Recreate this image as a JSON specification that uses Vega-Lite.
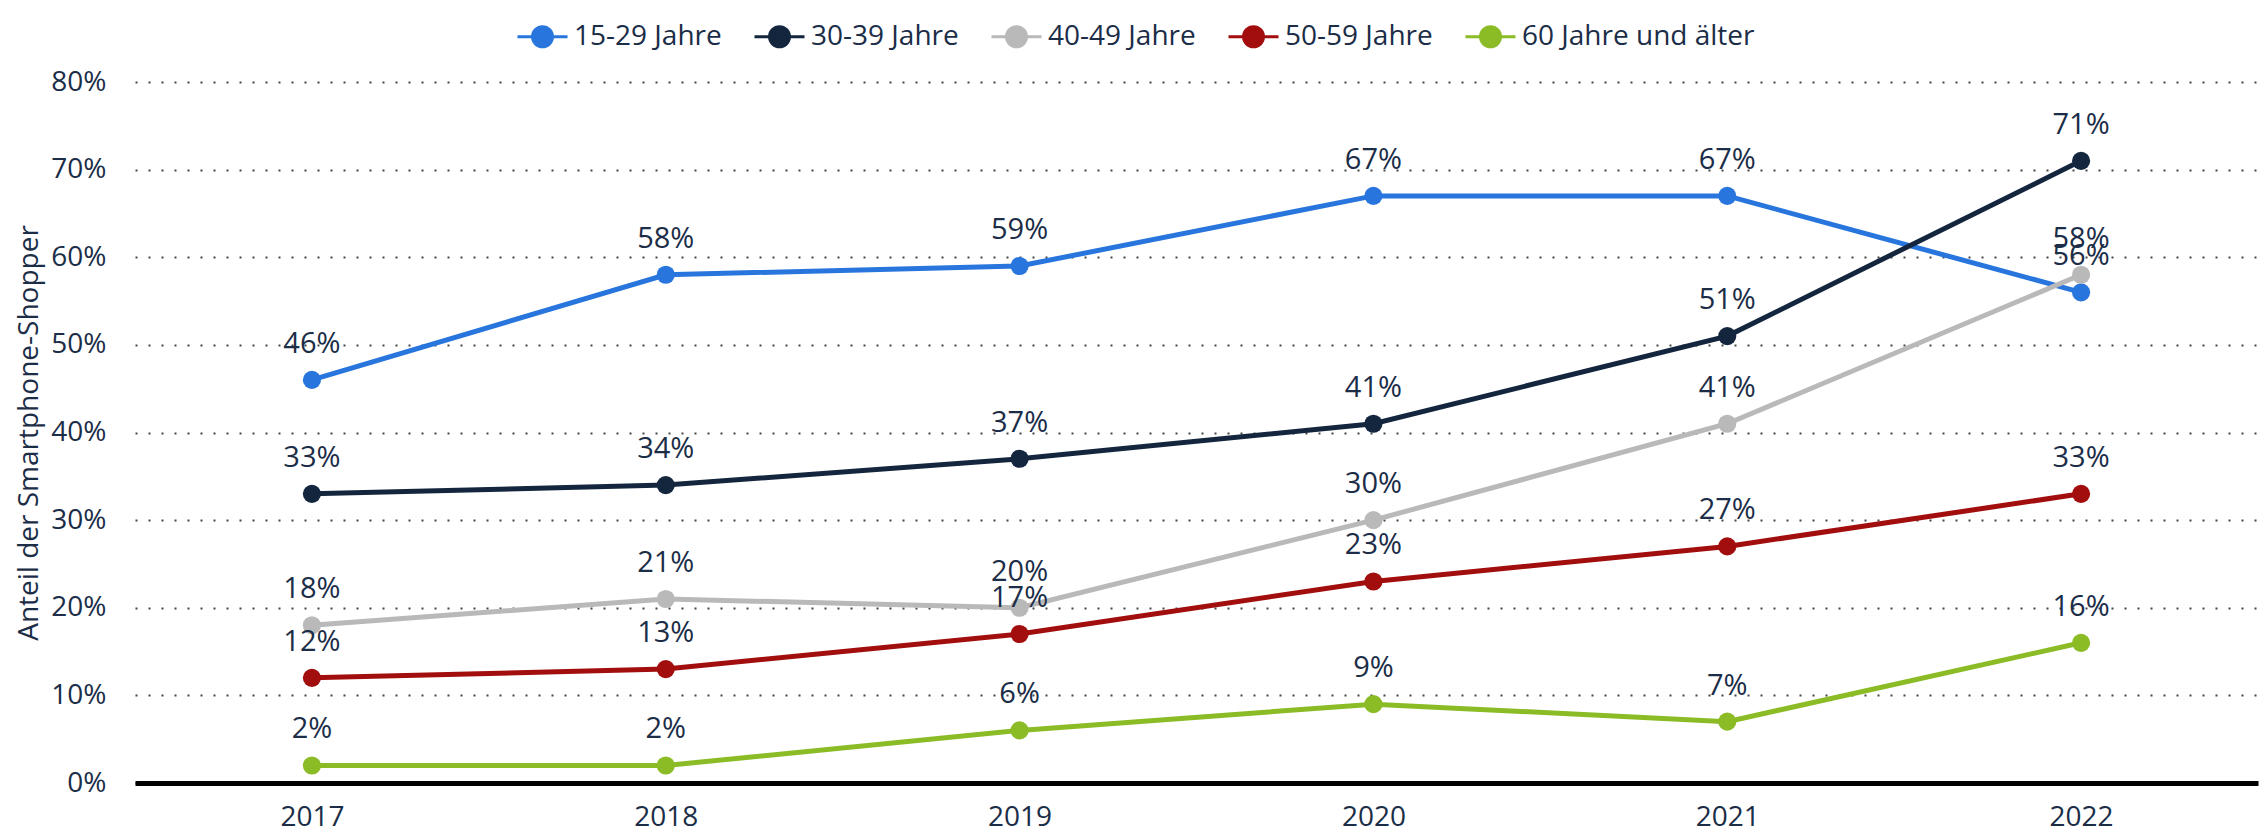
{
  "$schema": "https://vega.github.io/schema/vega-lite/v6.json",
  "width": 2123,
  "height": 701,
  "autosize": {"type": "none"},
  "padding": {"left": 135, "top": 82, "right": 8, "bottom": 52},
  "background": "white",
  "config": {
    "font": "Open Sans",
    "view": {"stroke": null}
  },
  "data": {
    "values": [
      {"jahr": "2017", "gruppe": "15-29 Jahre", "wert": 0.46},
      {"jahr": "2018", "gruppe": "15-29 Jahre", "wert": 0.58},
      {"jahr": "2019", "gruppe": "15-29 Jahre", "wert": 0.59},
      {"jahr": "2020", "gruppe": "15-29 Jahre", "wert": 0.67},
      {"jahr": "2021", "gruppe": "15-29 Jahre", "wert": 0.67},
      {"jahr": "2022", "gruppe": "15-29 Jahre", "wert": 0.56},
      {"jahr": "2017", "gruppe": "30-39 Jahre", "wert": 0.33},
      {"jahr": "2018", "gruppe": "30-39 Jahre", "wert": 0.34},
      {"jahr": "2019", "gruppe": "30-39 Jahre", "wert": 0.37},
      {"jahr": "2020", "gruppe": "30-39 Jahre", "wert": 0.41},
      {"jahr": "2021", "gruppe": "30-39 Jahre", "wert": 0.51},
      {"jahr": "2022", "gruppe": "30-39 Jahre", "wert": 0.71},
      {"jahr": "2017", "gruppe": "40-49 Jahre", "wert": 0.18},
      {"jahr": "2018", "gruppe": "40-49 Jahre", "wert": 0.21},
      {"jahr": "2019", "gruppe": "40-49 Jahre", "wert": 0.20},
      {"jahr": "2020", "gruppe": "40-49 Jahre", "wert": 0.30},
      {"jahr": "2021", "gruppe": "40-49 Jahre", "wert": 0.41},
      {"jahr": "2022", "gruppe": "40-49 Jahre", "wert": 0.58},
      {"jahr": "2017", "gruppe": "50-59 Jahre", "wert": 0.12},
      {"jahr": "2018", "gruppe": "50-59 Jahre", "wert": 0.13},
      {"jahr": "2019", "gruppe": "50-59 Jahre", "wert": 0.17},
      {"jahr": "2020", "gruppe": "50-59 Jahre", "wert": 0.23},
      {"jahr": "2021", "gruppe": "50-59 Jahre", "wert": 0.27},
      {"jahr": "2022", "gruppe": "50-59 Jahre", "wert": 0.33},
      {"jahr": "2017", "gruppe": "60 Jahre und älter", "wert": 0.02},
      {"jahr": "2018", "gruppe": "60 Jahre und älter", "wert": 0.02},
      {"jahr": "2019", "gruppe": "60 Jahre und älter", "wert": 0.06},
      {"jahr": "2020", "gruppe": "60 Jahre und älter", "wert": 0.09},
      {"jahr": "2021", "gruppe": "60 Jahre und älter", "wert": 0.07},
      {"jahr": "2022", "gruppe": "60 Jahre und älter", "wert": 0.16}
    ]
  },
  "encoding": {
    "x": {
      "field": "jahr",
      "type": "ordinal",
      "scale": {"type": "point", "padding": 0.5},
      "axis": {
        "title": null,
        "labelAngle": 0,
        "labelFont": "Open Sans",
        "labelFontSize": 28,
        "labelColor": "#1b2d47",
        "labelPadding": 20,
        "ticks": false,
        "domain": true,
        "domainColor": "#000000",
        "domainWidth": 5,
        "grid": false,
        "zindex": 2
      }
    },
    "y": {
      "field": "wert",
      "type": "quantitative",
      "scale": {"domain": [0, 0.8], "nice": false},
      "axis": {
        "title": "Anteil der Smartphone-Shopper",
        "titleFont": "Open Sans",
        "titleFontSize": 28,
        "titleFontWeight": "normal",
        "titleColor": "#1b2d47",
        "titleAnchor": "middle",
        "titleBaseline": "top",
        "titleX": -120,
        "values": [0, 0.1, 0.2, 0.3, 0.4, 0.5, 0.6, 0.7, 0.8],
        "format": ".0%",
        "labelFont": "Open Sans",
        "labelFontSize": 28,
        "labelColor": "#1b2d47",
        "labelPadding": 29,
        "ticks": false,
        "domain": false,
        "grid": true,
        "gridColor": "#444444",
        "gridWidth": 2,
        "gridDash": [2, 11]
      }
    },
    "color": {
      "field": "gruppe",
      "type": "nominal",
      "scale": {
        "domain": ["15-29 Jahre", "30-39 Jahre", "40-49 Jahre", "50-59 Jahre", "60 Jahre und älter"],
        "range": ["#2876dd", "#13263e", "#b9b9b9", "#a20d0d", "#8bbb25"]
      },
      "legend": {
        "title": null,
        "orient": "none",
        "direction": "horizontal",
        "legendX": 381,
        "legendY": -72,
        "labelFont": "Open Sans",
        "labelFontSize": 28,
        "labelColor": "#1b2d47",
        "labelLimit": 400,
        "symbolType": "M-1,0L1,0M0.4,0A0.4,0.4,0,1,1,-0.4,0A0.4,0.4,0,1,1,0.4,0Z",
        "symbolSize": 2500,
        "symbolStrokeWidth": 3,
        "symbolOpacity": 1,
        "labelOffset": 5,
        "columnPadding": 26
      }
    }
  },
  "layer": [
    {
      "mark": {"type": "line", "strokeWidth": 5},
      "encoding": {}
    },
    {
      "mark": {"type": "point", "filled": true, "size": 330, "opacity": 1},
      "encoding": {}
    },
    {
      "mark": {"type": "text", "font": "Open Sans", "fontSize": 29, "baseline": "alphabetic", "dy": -27},
      "encoding": {
        "text": {"field": "wert", "type": "quantitative", "format": ".0%"},
        "color": {"value": "#1b2d47"}
      }
    }
  ]
}
